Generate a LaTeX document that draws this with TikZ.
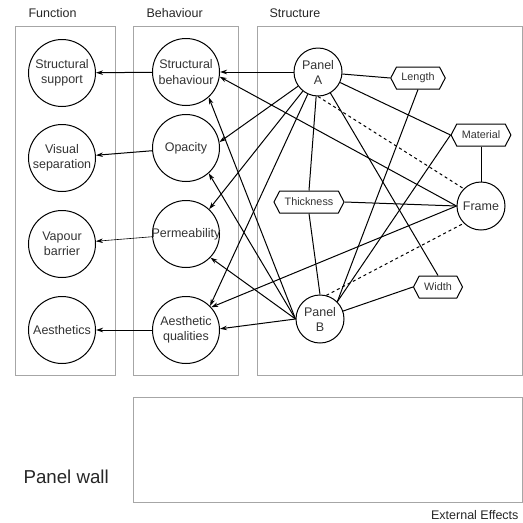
\documentclass[tikz,border=0pt]{standalone}
\usepackage{fontspec}
\setmainfont{Liberation Sans}
\usetikzlibrary{arrows.meta}
\usetikzlibrary{shapes.symbols}

\begin{document}
\begin{tikzpicture}[x=1pt,y=-1pt,
		bigcirc/.style={circle,draw,line width=1pt,minimum size=67pt,inner sep=-4pt,
			align=center,text=black!80,font=\fontsize{12.5}{15.5}\selectfont},
		partcirc/.style={circle,draw,line width=1pt,minimum size=48pt,inner sep=0pt,
			align=center,text=black!80,font=\fontsize{12.5}{15}\selectfont},
		attrib/.style={signal,signal to=east and west,signal pointer angle=125,draw,
			line width=1pt,inner xsep=5pt,inner ysep=3.5pt,minimum height=22pt,
			text=black!80,font=\fontsize{10.8}{13}\selectfont},
		region/.style={draw=black!35,line width=0.9pt},
		heading/.style={anchor=west,text=black!85,font=\fontsize{12.5}{15}\selectfont},
		link/.style={line width=1pt},
		influence/.style={line width=1pt,-{Stealth[length=7pt,width=4.5pt]}}]
		\useasboundingbox (0,0) rectangle (523,523);
		
		\draw[region] (15,26) rectangle (115,375);
		\draw[region] (133,26) rectangle (238,375);
		\draw[region] (257,26) rectangle (522,375);
		\draw[region] (133,397) rectangle (522,502);
		
		\node[heading] (hfunc) at (25,13) {Function};
		\node[heading] (hbeh) at (143,13) {Behaviour};
		\node[heading] (hstruct) at (266,13) {Structure};
		\node[heading,font=\fontsize{18.7}{22}\selectfont] (hwall) at (20,477) {Panel wall};
		\node[anchor=east,text=black!85,font=\fontsize{12.5}{15}\selectfont] (hext) at (522,515) {External Effects};
		
		\node[bigcirc] (fsupport) at (62,73) {Structural\\support};
		\node[bigcirc] (fvisual) at (62,158) {Visual\\separation};
		\node[bigcirc] (fvapour) at (62,244) {Vapour\\barrier};
		\node[bigcirc] (faesth) at (62,330) {Aesthetics};
		
		\node[bigcirc] (bstruct) at (186,72) {Structural\\behaviour};
		\node[bigcirc] (bopac) at (186,148) {Opacity};
		\node[bigcirc] (bperm) at (186,234) {Permeability};
		\node[bigcirc] (baesth) at (186,330) {Aesthetic\\qualities};
		
		\node[partcirc] (pA) at (318,72) {Panel\\A};
		\node[partcirc] (pB) at (320,319) {Panel\\B};
		\node[partcirc] (frame) at (481,206) {Frame};
		
		\node[attrib] (length) at (418,78) {Length};
		\node[attrib] (material) at (481,135) {Material};
		\node[attrib] (thick) at (309,202) {Thickness};
		\node[attrib] (width) at (438,287) {Width};
		
		\draw[influence] (bstruct) -- (fsupport);
		\draw[influence] (bopac) -- (fvisual);
		\draw[influence,line width=0.6pt] (bperm) -- (fvapour);
		\draw[influence] (baesth) -- (faesth);
		
		\draw[influence] (pA) -- (bstruct);
		\draw[influence] (pA) -- (bopac.10);
		\draw[influence] (pA) -- (bperm.47);
		\draw[influence] (pA) -- (baesth.45);
		\draw[influence] (frame.west) -- (bstruct.-8);
		\draw[influence] (frame.west) -- (baesth.42);
		\draw[influence] (pB.west) -- (bstruct.-48);
		\draw[influence] (pB.west) -- (bopac.-48);
		\draw[influence] (pB.west) -- (bperm.-44);
		\draw[influence] (pB.west) -- (baesth.2);
		
		\draw[link] (pA) -- (length.west);
		\draw[link] (pA) -- (material.west);
		\draw[link] (pA) -- (thick.north);
		\draw[link] (pA) -- (width.north);
		\draw[link,dashed] (pA.south) -- (frame.north west);
		\draw[link] (thick.south) -- (pB.north);
		\draw[link] (thick.east) -- (frame.west);
		\draw[link] (material.south) -- (frame.north);
		\draw[link] (length.south) -- (pB.north east);
		\draw[link] (material.west) -- (pB.north east);
		\draw[link] (width.west) -- (pB);
		\draw[link,dashed] (pB.75) -- (frame.south west);
	\end{tikzpicture}
\end{document}
